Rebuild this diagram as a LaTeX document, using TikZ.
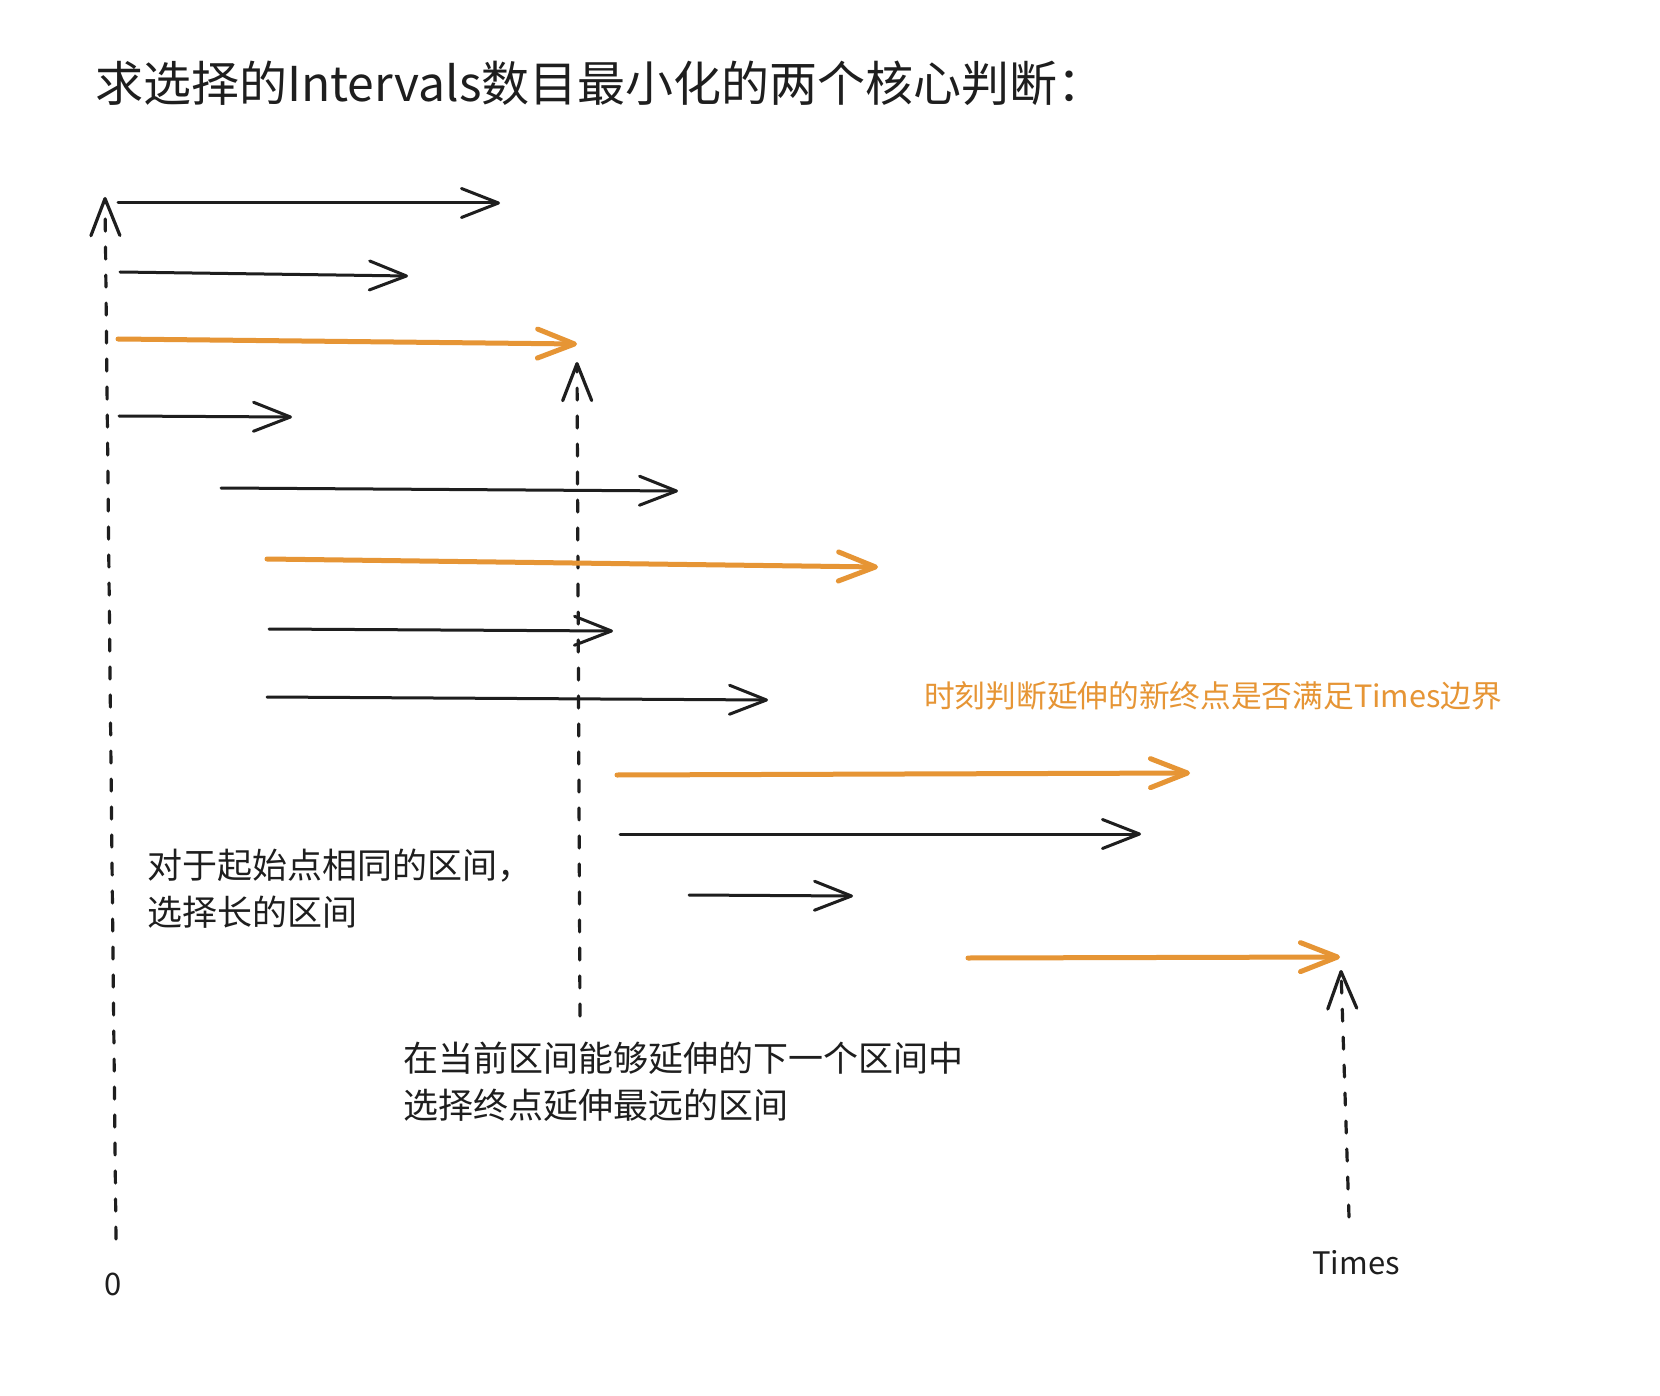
\documentclass[tikz,border=0pt]{standalone}
\usepackage{fontspec}
\setmainfont{Noto Sans CJK SC}
\usetikzlibrary{arrows.meta}
\definecolor{ink}{HTML}{1E1E1E}
\definecolor{accent}{HTML}{E69535}
\begin{document}
\begin{tikzpicture}[x=1pt,y=-1pt,
  barb/.style={-{Straight Barb[length=37pt,width=29pt,line cap=round,line join=round]}},
  interval/.style={draw=ink,line width=3pt,line cap=round,barb},
  chosen/.style={draw=accent,line width=5pt,line cap=round,barb},
  guide/.style={draw=ink,line width=3.2pt,line cap=round,dash pattern=on 12pt off 16pt,barb},
  lbl/.style={inner sep=0pt,anchor=west,text=ink,align=left}]
\useasboundingbox[fill=white] (0,0) rectangle (1660,1396);

% title and notes
\node[lbl,font=\fontsize{48}{56}\selectfont] (title) at (95,83) {求选择的Intervals数目最小化的两个核心判断：};
\node[lbl,font=\fontsize{35}{47}\selectfont] (note1) at (147,889) {对于起始点相同的区间，\\选择长的区间};
\node[lbl,font=\fontsize{35}{47}\selectfont] (note2) at (403,1082) {在当前区间能够延伸的下一个区间中\\选择终点延伸最远的区间};
\node[lbl,text=accent,font=\fontsize{30.7}{40}\selectfont] (note3) at (924,696) {时刻判断延伸的新终点是否满足Times边界};
\node[inner sep=0pt,text=ink,font=\fontsize{31}{40}\selectfont] (times) at (1356,1263) {Times};
\node[inner sep=0pt,text=ink,font=\fontsize{31}{40}\selectfont] (zero) at (113,1284) {0};

% guide lines (dashed, pointing up)
\coordinate (g1b) at (116,1239); \coordinate (g1t) at (105,197);
\coordinate (g2b) at (580,1016); \coordinate (g2t) at (577,362);
\coordinate (g3b) at (1349,1217); \coordinate (g3t) at (1341,970);
\draw[guide] (g1b) -- (g1t);
\draw[guide] (g2b) -- (g2t);
\draw[guide] (g3b) -- (g3t);

% intervals
\coordinate (a1s) at (118,203);  \coordinate (a1e) at (500,203);
\coordinate (a2s) at (120,272);  \coordinate (a2e) at (408,276);
\coordinate (a3s) at (118,339);  \coordinate (a3e) at (577,344);
\coordinate (a4s) at (119,416);  \coordinate (a4e) at (292,417);
\coordinate (a5s) at (221,488);  \coordinate (a5e) at (678,491);
\coordinate (a6s) at (267,559);  \coordinate (a6e) at (878,567);
\coordinate (a7s) at (269,629);  \coordinate (a7e) at (613,631);
\coordinate (a8s) at (267,697);  \coordinate (a8e) at (768,700);
\coordinate (a9s) at (617,775);  \coordinate (a9e) at (1190,773);
\coordinate (a10s) at (620,834); \coordinate (a10e) at (1141,834);
\coordinate (a11s) at (689,895); \coordinate (a11e) at (853,896);
\coordinate (a12s) at (968,958); \coordinate (a12e) at (1340,957);

\draw[interval] (a1s) -- (a1e);
\draw[interval] (a2s) -- (a2e);
\draw[chosen]   (a3s) -- (a3e);
\draw[interval] (a4s) -- (a4e);
\draw[interval] (a5s) -- (a5e);
\draw[chosen]   (a6s) -- (a6e);
\draw[interval] (a7s) -- (a7e);
\draw[interval] (a8s) -- (a8e);
\draw[chosen]   (a9s) -- (a9e);
\draw[interval] (a10s) -- (a10e);
\draw[interval] (a11s) -- (a11e);
\draw[chosen]   (a12s) -- (a12e);
\end{tikzpicture}
\end{document}
